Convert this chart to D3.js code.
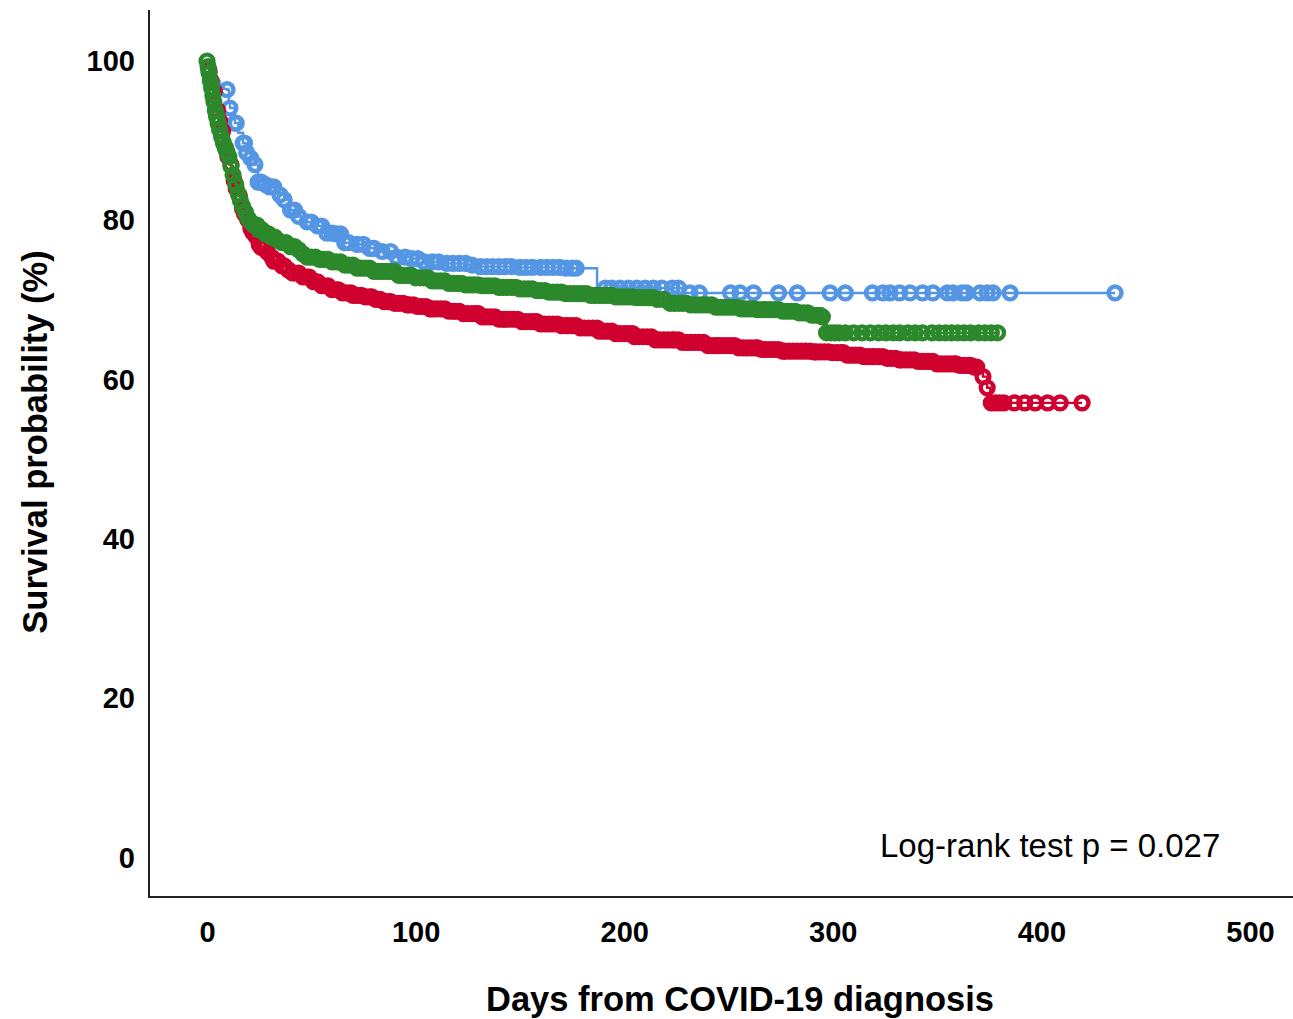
<!DOCTYPE html>
<html>
<head>
<meta charset="utf-8">
<script src="https://cdn.jsdelivr.net/npm/d3@7"></script>
<style>
  html, body { margin: 0; padding: 0; background: #fff; }
  svg { display: block; }
  text { font-family: "Liberation Sans", Arial, sans-serif; fill: #000; }
</style>
</head>
<body>
<svg id="chart" width="1293" height="1019"></svg>
<script>
// ---------------- DATA ----------------
const xTicks = [0, 100, 200, 300, 400, 500];
const yTicks = [0, 20, 40, 60, 80, 100];
const xTitle = "Days from COVID-19 diagnosis";
const yTitle = "Survival probability (%)";
const testLabel = "Log-rank test p = 0.027";

// Group colours (series order)
const groupNames = ["blue", "red", "green"];
const groupColors = ["#5496E4", "#D0002F", "#2B892B"];

// Kaplan–Meier step curves: knot times (days) and survival (%) after each step
const blueTimes = [0, 2, 4, 6, 8, 9.6, 10.5, 11, 13.4, 15, 17.3, 19, 21, 23, 24.5, 27, 30, 35, 37, 40, 44, 48, 53, 57.5, 62, 66, 72, 78, 84, 91, 98, 104, 115, 125, 131, 150, 170, 187, 228, 435.3];
const blueSurv  = [100, 98.5, 97.5, 97, 96.5, 96.4, 94.8, 94.1, 92.2, 91, 89.7, 88.5, 87.8, 87.0, 84.8, 84.5, 84.2, 83.2, 82.6, 81.3, 80.5, 79.8, 79.3, 78.4, 78.3, 77.2, 77.0, 76.5, 76.1, 75.4, 75.2, 74.8, 74.6, 74.4, 74.2, 74.1, 74.0, 71.5, 70.9, 70.9];

const redTimes = [0, 1, 2, 3, 4, 5, 6, 7, 8, 9, 10, 11, 12, 13, 14, 15, 16, 17, 18, 19, 20, 21, 22, 23, 24, 25, 26, 28, 30, 32, 35, 38, 41, 45, 50, 55, 60, 65, 70, 75, 80, 85, 90, 95, 100, 107, 115, 122, 131, 140, 150, 160, 170, 179, 188, 195, 205, 215, 227, 240, 255, 265, 275, 290, 300, 307, 315, 325, 332, 340, 350, 361, 368, 372, 374, 375.5, 419.5];
const redSurv  = [100, 98.8, 97.5, 96.2, 95, 93.8, 92.5, 91.2, 90, 89, 88, 87, 86, 85, 84, 83.1, 82.3, 81.5, 80.8, 80.1, 79.5, 79, 78.5, 78, 77.5, 77, 76.6, 76, 75.4, 74.9, 74.3, 73.8, 73.4, 72.9, 72.3, 71.8, 71.3, 70.9, 70.6, 70.4, 70.1, 69.8, 69.6, 69.4, 69.2, 68.9, 68.6, 68.3, 67.9, 67.6, 67.3, 67.0, 66.8, 66.5, 66.1, 65.8, 65.4, 65.0, 64.7, 64.3, 64.0, 63.8, 63.6, 63.5, 63.4, 63.1, 62.9, 62.7, 62.5, 62.3, 62.0, 61.8, 61.6, 60.4, 59.0, 57.1, 57.1];

const greenTimes = [0, 0.5, 1, 1.6, 2.2, 2.8, 3.3, 4, 4.6, 5.3, 6, 7, 7.8, 8.6, 9.5, 10.5, 11.5, 12.5, 13.8, 15, 16, 17, 18.5, 19.6, 21, 22.5, 25, 27.5, 30, 33, 36, 40, 43, 46, 48, 53, 59, 65, 72, 80, 91, 100, 107, 115, 123, 131, 140, 149, 157, 164, 172, 184, 195, 205, 216, 222, 232, 243, 255, 264, 275, 283, 290, 295, 297, 379];
const greenSurv  = [100, 99.3, 98.5, 97.5, 96.6, 95.7, 94.9, 93.8, 93.0, 92.2, 91.4, 90.5, 89.8, 89.2, 88.6, 88.0, 86.8, 85.7, 84.5, 83.3, 82.5, 81.8, 81.0, 80.3, 79.8, 79.4, 78.8, 78.3, 77.9, 77.5, 77.2, 76.7, 76.3, 75.8, 75.4, 75.1, 74.8, 74.4, 74.0, 73.6, 73.1, 72.8, 72.4, 72.1, 71.9, 71.8, 71.6, 71.4, 71.2, 71.0, 70.8, 70.6, 70.4, 70.3, 70.1, 69.6, 69.4, 69.1, 68.9, 68.8, 68.6, 68.4, 68.1, 67.9, 65.9, 65.9];

// Censored observations (days)
const blueCensored = [9.6, 11, 13.4, 14, 17.3, 18, 19, 21, 23, 24.5, 26, 28, 30, 32, 35, 37, 40, 42, 44, 48, 50, 53, 55, 57.5, 60, 62, 64, 66, 68, 72, 75, 78, 80, 84, 88, 91, 95, 98, 101, 104, 108, 111, 115, 118, 121, 124, 127, 131, 134, 137, 140, 143, 146, 150, 153, 156, 160, 163, 166, 169, 172, 175, 177,
  191, 194, 198, 202, 206, 210, 214, 218, 223, 226, 231.5, 236, 251, 255.5, 262, 274, 283, 298.7, 306, 319, 324, 327.4, 332, 337, 343, 348, 355, 357.6, 362, 364, 370.6, 374, 376.8, 385, 435.3];

const redCensored = [1, 2, 3.5, 5, 6, 7.5, 9, 10, 11.5, 13, 14, 15.5, 17, 18, 19.5, 21, 22, 23.5, 25, 26, 27.5, 29, 31, 32, 34, 36, 37, 39, 41, 42, 44, 46, 48, 49, 51, 53, 55, 56, 58, 60, 62, 63, 65, 67, 69, 70, 72, 74, 76, 78, 79, 81, 83, 85, 87, 88, 90, 92, 94, 96, 97, 99,
  101, 103, 105, 107, 108, 110, 112, 114, 116, 118, 119, 121, 123, 125, 127, 129, 130, 132, 134, 136, 138, 140, 142, 143, 145, 147, 149, 151, 153, 155, 157, 158, 160, 162, 164, 166, 168, 170, 172, 173, 175, 177, 179, 181, 183, 185, 187, 188, 190, 192, 194, 196, 198,
  200, 202, 204, 205, 207, 209, 211, 213, 215, 217, 219, 221, 223, 224, 226, 228, 230, 232, 234, 236, 238, 240, 242, 244, 245, 247, 249, 251, 253, 255, 257, 259, 261, 263, 264, 266, 268, 270, 272, 274, 276, 277, 279, 281, 283, 285, 287, 289, 291, 292, 294, 296, 298,
  300, 302, 304, 305, 307, 309, 311, 313, 315, 317, 319, 320, 322, 324, 326, 328, 330, 332, 333, 335, 337, 339, 341, 343, 345, 346, 348, 350, 352, 354, 356, 358, 359, 361, 363, 365, 366, 368, 369, 372, 374,
  376, 378, 380, 382, 387, 392, 397, 403, 409, 419.5];

const greenCensored = [0, 0.5, 1, 1.6, 2.2, 2.8, 3.3, 4, 4.6, 5.3, 6, 7, 7.8, 8.6, 9.5, 10.5, 11.5, 12.5, 13.8, 15, 16, 17, 18.5, 19.6, 21, 22.5, 24, 25, 26.5, 28, 29.5, 31, 32.5, 34, 36, 38, 40, 42, 44, 46, 48, 50, 52, 54, 56, 58, 60, 62, 64, 66, 68, 70, 72, 74, 76, 78, 80, 82, 84, 86, 88, 90, 92, 94, 96, 98,
  100, 102, 104, 106, 108, 110, 112, 114, 116, 118, 120, 122, 124, 126, 128, 130, 132, 134, 136, 138, 140, 142, 144, 146, 148, 150, 152, 154, 156, 158, 160, 162, 164, 166, 168, 170, 172, 174, 176, 178, 180, 182, 184, 186, 188, 190, 192, 194, 196, 198,
  200, 202, 204, 206, 208, 210, 212, 214, 216, 219, 222, 224, 226, 228, 230, 232, 234, 236, 238, 240, 242, 244, 246, 248, 250, 252, 254, 256, 258, 260, 262, 264, 266, 268, 270, 272, 274, 276, 278, 280, 282, 284, 286, 288, 290, 292, 294, 295,
  297, 299, 301, 303, 306, 310, 314, 318, 322, 325.5, 329, 332, 336, 339.5, 343, 347.6, 351, 354, 357, 360, 363, 366, 370, 373, 376, 379];

// ---------------- CHART ----------------
const svg = d3.select("#chart");
const W = 1293, H = 1019;

const x = d3.scaleLinear().domain([0, 500]).range([207, 1250]);
const y = d3.scaleLinear().domain([0, 100]).range([858, 61]);

const axisX0 = 149, axisY0 = 897;

const groups = [
  { name: groupNames[0], color: groupColors[0], times: blueTimes, surv: blueSurv, cens: blueCensored },
  { name: groupNames[1], color: groupColors[1], times: redTimes, surv: redSurv, cens: redCensored },
  { name: groupNames[2], color: groupColors[2], times: greenTimes, surv: greenSurv, cens: greenCensored }
];

function survAt(g, t) {
  const i = d3.bisectRight(g.times, t) - 1;
  return g.surv[Math.max(0, i)];
}

const line = d3.line()
  .x(d => x(d[0]))
  .y(d => y(d[1]))
  .curve(d3.curveStepAfter);

const plot = svg.append("g");
groups.forEach(g => {
  const pts = g.times.map((t, i) => [t, g.surv[i]]);
  const gg = plot.append("g").attr("class", "group-" + g.name);
  gg.append("path")
    .attr("d", line(pts))
    .attr("fill", "none")
    .attr("stroke", g.color)
    .attr("stroke-width", 2.4);
  gg.selectAll("circle")
    .data(g.cens)
    .join("circle")
    .attr("cx", t => x(t))
    .attr("cy", t => y(survAt(g, t)))
    .attr("r", 6.4)
    .attr("fill", "none")
    .attr("stroke", g.color)
    .attr("stroke-width", 4.4);
});

// Axes lines
svg.append("line")
  .attr("x1", axisX0).attr("x2", axisX0)
  .attr("y1", 10).attr("y2", axisY0)
  .attr("stroke", "#222").attr("stroke-width", 2);
svg.append("line")
  .attr("x1", axisX0 - 1).attr("x2", W)
  .attr("y1", axisY0).attr("y2", axisY0)
  .attr("stroke", "#222").attr("stroke-width", 2);

// Y axis labels
const yAxis = d3.axisLeft(y).tickValues(yTicks).tickSize(0).tickPadding(14);
const gy = svg.append("g").attr("transform", `translate(${axisX0},0)`).call(yAxis);
gy.select(".domain").remove();
gy.selectAll("text")
  .attr("font-family", "'Liberation Sans', Arial, sans-serif")
  .attr("font-size", 29).attr("font-weight", "bold").attr("fill", "#111");

// X axis labels
const xAxis = d3.axisBottom(x).tickValues(xTicks).tickSize(0).tickPadding(24);
const gx = svg.append("g").attr("transform", `translate(0,${axisY0})`).call(xAxis);
gx.select(".domain").remove();
gx.selectAll("text")
  .attr("font-family", "'Liberation Sans', Arial, sans-serif")
  .attr("font-size", 29).attr("font-weight", "bold").attr("fill", "#111");

// Titles
svg.append("text")
  .attr("x", 740).attr("y", 1011)
  .attr("text-anchor", "middle")
  .attr("font-size", 34.5).attr("font-weight", "bold")
  .text(xTitle);

svg.append("text")
  .attr("transform", "translate(35,442) rotate(-90)")
  .attr("text-anchor", "middle")
  .attr("dominant-baseline", "central")
  .attr("font-size", 34.5).attr("font-weight", "bold")
  .text(yTitle);

svg.append("text")
  .attr("x", 880).attr("y", 857)
  .attr("font-size", 33)
  .text(testLabel);
</script>
</body>
</html>
